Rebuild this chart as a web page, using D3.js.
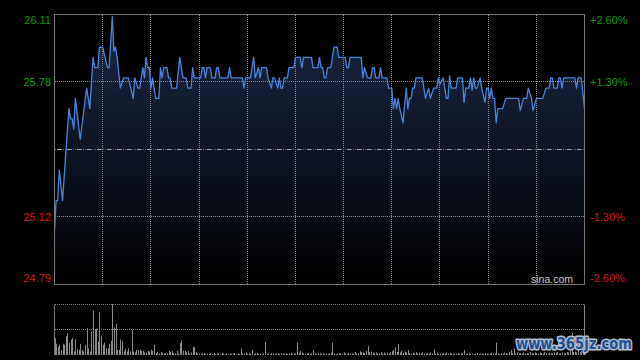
<!DOCTYPE html>
<html><head><meta charset="utf-8">
<script src="https://cdn.jsdelivr.net/npm/d3@7"></script>
<style>html,body{margin:0;padding:0;background:#000;}svg{display:block;}</style>
</head><body>
<script>
// ---- data ----
const prevClose = 25.45;
const priceDomain = [24.79, 26.11];
const leftTicks = [26.11, 25.78, 25.12, 24.79];
const leftTickColors = ["#129912", "#129912", "#cc1b1b", "#cc1b1b"];
const rightTicks = ["+2.60%", "+1.30%", "-1.30%", "-2.60%"];
const totalMinutes = 330;
const gridMinutes = [30, 60, 90, 120, 150, 180, 210, 240, 270, 300];
const priceMinutes = [0,1,2,3,5,9,10,11,12,13,16,20,22,24,25,27,28,30,33,34,36,37,38,39,41,43,46,49,50,52,53,55,56,57,58,59,60,61,63,65,66,67,68,70,71,72,73,76,78,80,82,83,85,86,87,91,92,93,94,95,97,98,100,101,102,103,108,109,110,117,118,119,122,124,125,127,128,129,132,133,135,136,137,139,140,141,142,143,145,146,149,150,153,154,155,160,161,164,165,166,167,168,169,170,172,174,176,177,181,182,183,184,191,192,193,195,197,198,199,200,202,203,204,207,208,210,211,212,213,214,215,217,219,220,221,222,223,224,225,229,230,231,233,234,236,238,239,240,242,244,245,246,247,250,251,254,255,256,258,259,260,261,262,263,265,266,268,269,270,271,272,273,274,275,276,279,281,289,290,292,294,295,297,298,300,304,306,308,309,310,311,313,314,315,316,317,324,325,326,328,330];
const priceValues = [25.05,25.20,25.20,25.35,25.20,25.65,25.60,25.60,25.55,25.70,25.50,25.75,25.65,25.90,25.85,25.85,25.95,25.95,25.85,25.85,26.10,25.93,25.95,25.90,25.75,25.80,25.80,25.70,25.80,25.75,25.75,25.85,25.80,25.90,25.85,25.85,25.75,25.80,25.70,25.70,25.85,25.80,25.85,25.85,25.80,25.80,25.75,25.75,25.90,25.80,25.80,25.75,25.75,25.85,25.80,25.80,25.85,25.85,25.80,25.85,25.85,25.80,25.80,25.85,25.85,25.80,25.80,25.85,25.80,25.80,25.75,25.80,25.80,25.90,25.80,25.85,25.80,25.85,25.85,25.80,25.75,25.80,25.80,25.75,25.80,25.75,25.75,25.80,25.80,25.85,25.85,25.90,25.90,25.85,25.90,25.90,25.85,25.85,25.90,25.85,25.85,25.80,25.80,25.85,25.85,25.95,25.95,25.90,25.90,25.85,25.85,25.90,25.90,25.80,25.85,25.80,25.80,25.85,25.85,25.80,25.80,25.85,25.80,25.80,25.75,25.75,25.65,25.70,25.65,25.70,25.65,25.58,25.75,25.65,25.70,25.70,25.75,25.75,25.80,25.80,25.75,25.70,25.75,25.70,25.75,25.75,25.80,25.77,25.80,25.70,25.70,25.81,25.75,25.75,25.80,25.80,25.68,25.75,25.75,25.80,25.74,25.80,25.75,25.75,25.80,25.75,25.68,25.75,25.75,25.70,25.75,25.70,25.70,25.58,25.65,25.65,25.70,25.70,25.64,25.70,25.70,25.75,25.70,25.64,25.70,25.70,25.75,25.75,25.80,25.80,25.75,25.75,25.80,25.80,25.75,25.80,25.80,25.75,25.80,25.80,25.65];
const volumes = [
33,22,16,20,10,22,20,37,43,24,
30,33,7,31,11,10,22,10,7,20,
53,13,7,46,87,50,52,26,84,38,
20,24,13,13,22,28,100,54,61,10,
10,30,28,7,12,7,13,7,49,7,
5,10,10,10,8,8,5,5,8,7,
10,8,20,4,6,3,6,4,3,3,
3,8,6,8,4,3,8,3,24,29,
8,8,5,8,3,5,16,15,6,3,
3,2,3,4,2,3,2,3,2,4,
2,3,3,2,4,3,2,3,2,3,
2,3,4,2,3,2,13,3,2,5,
2,3,3,10,2,3,4,2,3,2,
3,26,2,3,2,4,3,2,3,3,
2,4,3,2,3,2,3,5,2,3,
3,24,4,8,5,3,2,3,4,2,
3,10,3,2,4,3,2,3,2,3,
2,3,4,24,3,2,3,4,3,2,
5,3,2,4,3,3,2,6,3,4,
7,6,5,4,8,18,6,7,5,4,
5,3,4,6,3,5,3,4,3,5,
7,10,15,6,22,5,8,4,6,5,
10,4,3,5,3,6,3,4,3,5,
3,2,4,3,5,3,11,3,4,2,
3,2,4,3,5,3,4,3,2,3,
3,4,2,3,3,10,2,3,4,2,
3,2,3,4,2,3,3,2,4,3,
2,3,4,3,3,24,3,2,4,3,
5,4,3,6,10,4,13,3,5,3,
4,3,5,3,4,3,6,4,3,5,
4,3,5,4,3,6,4,3,5,4,
3,5,4,6,3,4,5,3,4,6,
5,8,44,6,7,5,10,6,8,9,
14];
const sourceLabel = "sina.com";
const watermark = "www.365jz.com";

// ---- chart ----
const W = 640, H = 360;
const svg = d3.select("body").append("svg").attr("width", W).attr("height", H)
  .style("background", "#000");

const x = d3.scaleLinear().domain([0, totalMinutes]).range([54.5, 584.5]);
const y = d3.scaleLinear().domain(priceDomain).range([284.5, 14.5]);
const yv = d3.scaleLinear().domain([0, d3.max(volumes)]).range([355, 304]);
const px = v => Math.round(v - 0.5) + 0.5;

const defs = svg.append("defs");
const grad = defs.append("linearGradient").attr("id", "fillGrad")
  .attr("gradientUnits", "userSpaceOnUse").attr("x1", 0).attr("x2", 0)
  .attr("y1", y.range()[1]).attr("y2", y.range()[0]);
grad.append("stop").attr("offset", "0%").attr("stop-color", "#1a2846");
grad.append("stop").attr("offset", "100%").attr("stop-color", "#000000");

const pts = priceMinutes.map((m, i) => [m, priceValues[i]]);

// area fill
svg.append("path").datum(pts)
  .attr("d", d3.area().x(d => x(d[0])).y0(y.range()[0]).y1(d => y(d[1])))
  .attr("fill", "url(#fillGrad)");

// grid lines (dash boundaries aligned to whole pixels)
const gridColor = "#8a8a8a";
const xL = Math.ceil(x.range()[0]), xR = Math.floor(x.range()[1]);
const yT = Math.ceil(y.range()[1]), yB = Math.floor(y.range()[0]);
svg.append("g").selectAll("line").data(gridMinutes).join("line")
  .attr("x1", d => px(x(d))).attr("x2", d => px(x(d)))
  .attr("y1", yT).attr("y2", yB)
  .attr("stroke", gridColor).attr("stroke-width", 1).attr("stroke-dasharray", "1,1");
const hGrid = [25.78, 25.12];
svg.append("g").selectAll("line").data(hGrid).join("line")
  .attr("x1", xL).attr("x2", xR)
  .attr("y1", d => px(y(d))).attr("y2", d => px(y(d)))
  .attr("stroke", gridColor).attr("stroke-dasharray", "1,1");
// previous close line
const yc = px(y(prevClose));
svg.append("line").attr("x1", xL).attr("x2", xR)
  .attr("y1", yc).attr("y2", yc).attr("stroke", "#707070").attr("stroke-dasharray", "1,1");
svg.append("line").attr("x1", xL + 2).attr("x2", xR)
  .attr("y1", yc).attr("y2", yc).attr("stroke", "#a8a8a8").attr("stroke-dasharray", "4,6");

// price line
svg.append("path").datum(pts)
  .attr("d", d3.line().x(d => x(d[0])).y(d => y(d[1])))
  .attr("fill", "none").attr("stroke", "#4a85dd").attr("stroke-width", 1.3)
  .attr("stroke-linejoin", "round");

// frame
svg.append("rect").attr("x", x.range()[0]).attr("y", y.range()[1])
  .attr("width", x.range()[1] - x.range()[0]).attr("height", y.range()[0] - y.range()[1])
  .attr("fill", "none").attr("stroke", "#777").attr("stroke-width", 1);

// axis labels
const lab = svg.append("g").attr("font-family", "Liberation Sans, Arial, sans-serif").attr("font-size", 11);
leftTicks.forEach((v, i) => {
  const yy = Math.max(20, Math.min(278, y(v)));
  lab.append("text").attr("x", 51).attr("y", yy).attr("dy", "0.35em")
    .attr("text-anchor", "end").attr("fill", leftTickColors[i]).text(d3.format(".2f")(v));
  lab.append("text").attr("x", 590).attr("y", yy).attr("dy", "0.35em")
    .attr("text-anchor", "start").attr("fill", leftTickColors[i]).text(rightTicks[i]);
});
lab.append("text").attr("x", 573).attr("y", 279).attr("dy", "0.35em").attr("text-anchor", "end")
  .attr("fill", "#c8c8c8").attr("font-size", 10.5).text(sourceLabel);

// volume panel
const vTop = 304.5, vMid = 329.5, vBot = 355;
svg.append("g").selectAll("line").data([vTop, vMid]).join("line")
  .attr("x1", xL).attr("x2", xR).attr("y1", d => d).attr("y2", d => d)
  .attr("stroke", gridColor).attr("stroke-dasharray", "1,1");
svg.append("line").attr("x1", x.range()[0]).attr("x2", x.range()[0]).attr("y1", vTop).attr("y2", vBot)
  .attr("stroke", "#777");
svg.append("line").attr("x1", x.range()[1]).attr("x2", x.range()[1]).attr("y1", vTop).attr("y2", vBot)
  .attr("stroke", "#888");
svg.append("g").selectAll("rect").data(volumes).join("rect")
  .attr("x", (d, i) => Math.round(x(i)))
  .attr("y", d => yv(d)).attr("width", 1).attr("height", d => vBot - yv(d))
  .attr("fill", "#8c8c8c");

// watermark
svg.append("text").attr("x", 516).attr("y", 349).attr("textLength", 116)
  .attr("lengthAdjust", "spacingAndGlyphs")
  .attr("font-family", "DejaVu Sans, sans-serif").attr("font-weight", "bold").attr("font-size", 15)
  .attr("fill", "#1f4f96").attr("stroke", "#b8c0cc").attr("stroke-width", 3)
  .attr("paint-order", "stroke").attr("stroke-linejoin", "round").text(watermark);
</script>
</body></html>
